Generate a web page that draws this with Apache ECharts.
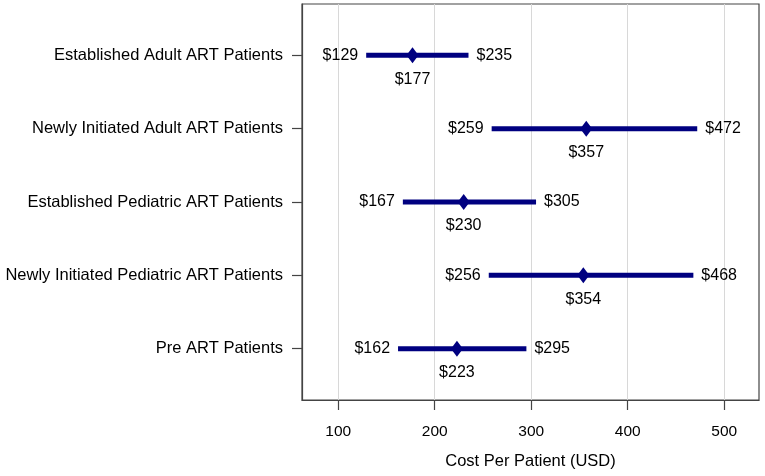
<!DOCTYPE html>
<html>
<head>
<meta charset="utf-8">
<script src="https://cdn.jsdelivr.net/npm/echarts@6/dist/echarts.min.js"></script>
<style>html,body{margin:0;padding:0;background:#fff;}#c{width:765px;height:476px;}</style>
</head>
<body>
<div id="c"></div>
<script>
const categories = ['Established Adult ART Patients','Newly Initiated Adult ART Patients','Established Pediatric ART Patients','Newly Initiated Pediatric ART Patients','Pre ART Patients'];
const lowValues = [129, 259, 167, 256, 162];
const midValues = [177, 357, 230, 354, 223];
const highValues = [235, 472, 305, 468, 295];
const xTicks = [100, 200, 300, 400, 500];
const rowPos = [1, 2, 3, 4, 5];

const FONT = 'Liberation Sans, Arial, sans-serif';
const NAVY = '#000080';
const chart = echarts.init(document.getElementById('c'));

const rangeData = categories.map((c, i) => [lowValues[i], highValues[i], rowPos[i]]);
const midData = categories.map((c, i) => [midValues[i], rowPos[i]]);

chart.setOption({
  animation: false,
  grid: { left: 302, right: 6, top: 4, bottom: 76, show: true, borderColor: '#444', borderWidth: 1.2, backgroundColor: 'transparent' },
  xAxis: {
    type: 'value', min: 62.5, max: 536,
    name: 'Cost Per Patient (USD)', nameLocation: 'middle', nameGap: 53,
    nameTextStyle: { fontFamily: FONT, fontSize: 16.5, color: '#000' },
    axisLine: { show: true, lineStyle: { color: '#444', width: 1.2 } },
    axisTick: { show: true, inside: false, length: 10, customValues: xTicks, lineStyle: { color: '#444', width: 1.2 } },
    axisLabel: { customValues: xTicks, margin: 24, fontFamily: FONT, fontSize: 15.5, color: '#000' },
    splitLine: { show: false }
  },
  yAxis: {
    type: 'value', min: 0.3, max: 5.7, inverse: true,
    axisLine: { show: true, lineStyle: { color: '#444', width: 1.2 } },
    axisTick: { show: true, inside: false, length: 10, customValues: rowPos, lineStyle: { color: '#444', width: 1.2 } },
    axisLabel: { customValues: rowPos, margin: 19, fontFamily: FONT, fontSize: 16.5, color: '#000',
      formatter: v => categories[Math.round(v) - 1] || '' },
    splitLine: { show: false }
  },
  series: [
    {
      type: 'scatter',
      data: [],
      z: 0,
      silent: true,
      markLine: {
        silent: true, symbol: 'none', animation: false, z: 0,
        label: { show: false },
        lineStyle: { color: '#d8d8d8', type: 'solid', width: 1 },
        data: xTicks.map(t => ({ xAxis: t }))
      }
    },
    {
      type: 'custom',
      data: rangeData,
      encode: { x: [0, 1], y: 2 },
      z: 2,
      renderItem: function (params, api) {
        const p1 = api.coord([api.value(0), api.value(2)]);
        const p2 = api.coord([api.value(1), api.value(2)]);
        return {
          type: 'group',
          children: [
            { type: 'line', shape: { x1: p1[0], y1: p1[1], x2: p2[0], y2: p2[1] },
              style: { stroke: NAVY, lineWidth: 5 } },
            { type: 'text', x: p1[0] - 8, y: p1[1],
              style: { text: '$' + api.value(0), fill: '#000', font: '16px ' + FONT, align: 'right', verticalAlign: 'middle' } },
            { type: 'text', x: p2[0] + 8, y: p2[1],
              style: { text: '$' + api.value(1), fill: '#000', font: '16px ' + FONT, align: 'left', verticalAlign: 'middle' } }
          ]
        };
      }
    },
    {
      type: 'scatter',
      data: midData,
      symbol: 'diamond',
      symbolSize: [12, 16],
      z: 3,
      itemStyle: { color: NAVY, opacity: 1 },
      label: { show: true, position: 'bottom', distance: 8, formatter: p => '$' + p.value[0],
        fontFamily: FONT, fontSize: 16, color: '#000', opacity: 1 }
    }
  ]
});
</script>
</body>
</html>
